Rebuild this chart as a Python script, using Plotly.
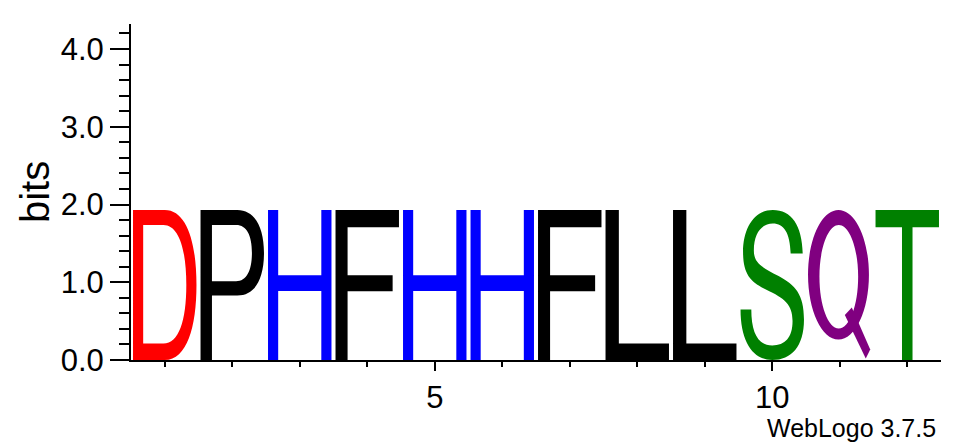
import plotly.graph_objects as go

# ---------------- data ----------------
positions = [1, 2, 3, 4, 5, 6, 7, 8, 9, 10, 11, 12]
letters = ["D", "P", "H", "F", "H", "H", "F", "L", "L", "S", "Q", "T"]
heights = [1.93, 1.93, 1.93, 1.93, 1.93, 1.93, 1.93, 1.93, 1.93, 1.93, 1.93, 1.93]
y_tick_vals = [0, 1, 2, 3, 4]
y_tick_text = ["0.0", "1.0", "2.0", "3.0", "4.0"]
x_tick_vals = [5, 10]
x_tick_text = ["5", "10"]
y_max = 4.3219  # log2(20) for protein alphabet

# ---------------- style ----------------
COLORS = {"D": "#FF0000", "E": "#FF0000", "P": "#000000", "F": "#000000", "L": "#000000",
          "H": "#0000FF", "K": "#0000FF", "R": "#0000FF",
          "S": "#008000", "T": "#008000", "Q": "#800080", "N": "#800080"}
FONT = "Liberation Sans, Arial, Helvetica, sans-serif"
LETTER_W = 0.94


def ellipse(cx, cy, rx, ry):
    k = 0.5523
    return [("M", [(cx + rx, cy)]),
            ("C", [(cx + rx, cy + k * ry), (cx + k * rx, cy + ry), (cx, cy + ry)]),
            ("C", [(cx - k * rx, cy + ry), (cx - rx, cy + k * ry), (cx - rx, cy)]),
            ("C", [(cx - rx, cy - k * ry), (cx - k * rx, cy - ry), (cx, cy - ry)]),
            ("C", [(cx + k * rx, cy - ry), (cx + rx, cy - k * ry), (cx + rx, cy)]),
            ("Z", [])]


def poly(pts):
    out = [("M", [pts[0]])]
    for p in pts[1:]:
        out.append(("L", [p]))
    out.append(("Z", []))
    return out


# glyph outlines in a unit box (u: 0..1 across, v: 0..1 up); list of shapes, each list of subpaths
GLYPHS = {
    "D": [[
        [("M", [(0, 0)]), ("L", [(0, 1)]), ("L", [(0.5, 1)]),
         ("C", [(0.85, 1), (1, 0.78), (1, 0.5)]),
         ("C", [(1, 0.22), (0.85, 0), (0.5, 0)]), ("Z", [])],
        [("M", [(0.16, 0.11)]), ("L", [(0.16, 0.9)]), ("L", [(0.48, 0.9)]),
         ("C", [(0.72, 0.9), (0.84, 0.74), (0.84, 0.5)]),
         ("C", [(0.84, 0.26), (0.72, 0.11), (0.48, 0.11)]), ("Z", [])],
    ]],
    "P": [[
        [("M", [(0, 0)]), ("L", [(0, 1)]), ("L", [(0.58, 1)]),
         ("C", [(0.86, 1), (1, 0.88), (1, 0.715)]),
         ("C", [(1, 0.54), (0.86, 0.43), (0.58, 0.43)]),
         ("L", [(0.18, 0.43)]), ("L", [(0.18, 0)]), ("Z", [])],
        [("M", [(0.18, 0.9)]), ("L", [(0.56, 0.9)]),
         ("C", [(0.73, 0.9), (0.81, 0.83), (0.81, 0.715)]),
         ("C", [(0.81, 0.6), (0.73, 0.525), (0.56, 0.525)]),
         ("L", [(0.18, 0.525)]), ("Z", [])],
    ]],
    "H": [[poly([(0, 0), (0, 1), (0.16, 1), (0.16, 0.565), (0.84, 0.565), (0.84, 1), (1, 1),
                 (1, 0), (0.84, 0), (0.84, 0.46), (0.16, 0.46), (0.16, 0)])]],
    "F": [[poly([(0, 0), (0, 1), (1, 1), (1, 0.884), (0.19, 0.884), (0.19, 0.565), (0.9, 0.565),
                 (0.9, 0.458), (0.19, 0.458), (0.19, 0)])]],
    "L": [[poly([(0, 0), (0, 1), (0.21, 1), (0.21, 0.11), (1, 0.11), (1, 0)])]],
    "T": [[poly([(0.417, 0), (0.417, 0.884), (0, 0.884), (0, 1), (1, 1), (1, 0.884),
                 (0.583, 0.884), (0.583, 0)])]],
    "S": [[[
        ("M", [(0.98, 0.71)]),
        ("C", [(0.97, 0.90), (0.80, 1.0), (0.51, 1.0)]),
        ("C", [(0.22, 1.0), (0.04, 0.88), (0.04, 0.72)]),
        ("C", [(0.04, 0.57), (0.16, 0.52), (0.40, 0.47)]),
        ("C", [(0.70, 0.41), (0.82, 0.37), (0.82, 0.26)]),
        ("C", [(0.82, 0.15), (0.70, 0.097), (0.50, 0.097)]),
        ("C", [(0.28, 0.097), (0.17, 0.18), (0.17, 0.337)]),
        ("L", [(0, 0.337)]),
        ("C", [(0, 0.12), (0.2, 0), (0.5, 0)]),
        ("C", [(0.80, 0), (1.0, 0.09), (1.0, 0.27)]),
        ("C", [(1.0, 0.44), (0.86, 0.50), (0.60, 0.56)]),
        ("C", [(0.32, 0.62), (0.21, 0.65), (0.21, 0.73)]),
        ("C", [(0.21, 0.85), (0.34, 0.91), (0.51, 0.91)]),
        ("C", [(0.68, 0.91), (0.78, 0.85), (0.79, 0.71)]),
        ("Z", []),
    ]]],
    "Q": [
        [ellipse(0.48, 0.568, 0.48, 0.432), ellipse(0.485, 0.555, 0.305, 0.345)],
        [poly([(0.58, 0.30), (0.69, 0.35), (0.98, 0.07), (0.91, 0.01)])],
    ],
}


def build_path(subpaths, xc, h, w):
    x0 = xc - w / 2.0
    parts = []
    for sub in subpaths:
        for cmd, pts in sub:
            if cmd == "Z":
                parts.append("Z")
            else:
                coords = " ".join(f"{x0 + u * w:.4f},{v * h:.4f}" for u, v in pts)
                parts.append(f"{cmd}{coords}")
    return " ".join(parts)


shapes = []
for pos, let, h in zip(positions, letters, heights):
    for piece in GLYPHS[let]:
        shapes.append(dict(type="path", xref="x", yref="y",
                           path=build_path(piece, pos, h, LETTER_W),
                           fillcolor=COLORS[let], fillrule="evenodd",
                           line=dict(width=0, color=COLORS[let]), layer="above"))

fig = go.Figure()
fig.add_trace(go.Scatter(x=positions, y=heights, mode="markers", text=letters,
                         marker=dict(opacity=0), hovertemplate="%{text}: %{y:.2f} bits<extra></extra>",
                         showlegend=False))

fig.update_layout(
    width=963, height=444,
    margin=dict(l=131, r=22, t=24, b=84, pad=0),
    paper_bgcolor="white", plot_bgcolor="white",
    font=dict(family=FONT, color="black"),
    shapes=shapes,
    xaxis=dict(range=[0.5, 12.5], showgrid=False, zeroline=False,
               showline=True, linecolor="black", linewidth=2,
               ticks="outside", tickvals=x_tick_vals, ticktext=x_tick_text,
               ticklen=9, tickwidth=2, tickcolor="black",
               tickfont=dict(size=31, family=FONT, color="black"),
               minor=dict(tickvals=positions, ticklen=5, tickwidth=1.5,
                          tickcolor="black", ticks="outside", showgrid=False)),
    yaxis=dict(range=[0, y_max], showgrid=False, zeroline=False,
               showline=True, linecolor="black", linewidth=2,
               ticks="outside", tickvals=y_tick_vals, ticktext=y_tick_text,
               ticklen=19, tickwidth=2, tickcolor="black",
               tickfont=dict(size=31, family=FONT, color="black"),
               minor=dict(dtick=0.2, tick0=0, ticklen=10, tickwidth=1.5,
                          tickcolor="black", ticks="outside", showgrid=False)),
    annotations=[
        dict(text="bits", xref="paper", yref="paper", x=-0.1185, y=0.5,
             xanchor="center", yanchor="middle", textangle=-90, showarrow=False,
             font=dict(size=40, family=FONT, color="black")),
        dict(text="WebLogo 3.7.5", xref="paper", yref="paper", x=0.9963, y=-0.2024,
             xanchor="right", yanchor="middle", showarrow=False,
             font=dict(size=25, family=FONT, color="black")),
    ],
)

fig.write_html("out.html")
